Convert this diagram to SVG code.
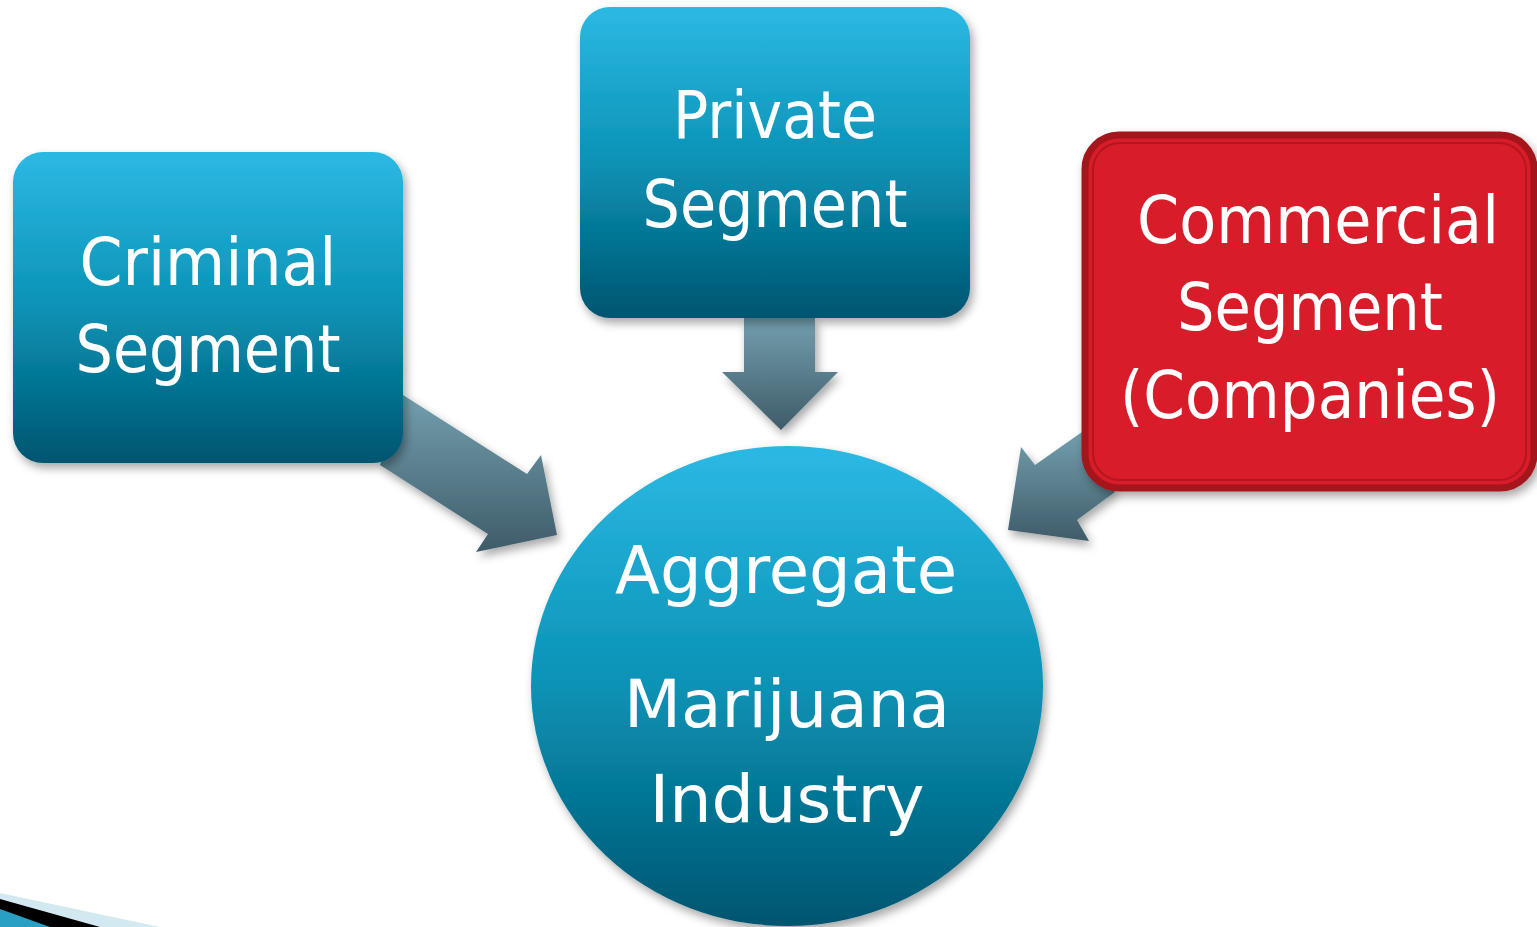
<svg xmlns="http://www.w3.org/2000/svg" width="1537" height="927" viewBox="0 0 1537 927">
<defs>
<linearGradient id="blue" x1="0" y1="0" x2="0" y2="1">
<stop offset="0" stop-color="#2cb9e4"/>
<stop offset="0.5" stop-color="#0a92b5"/>
<stop offset="1" stop-color="#005570"/>
</linearGradient>
<linearGradient id="arrowG" x1="0" y1="0" x2="0" y2="1">
<stop offset="0" stop-color="#739fae"/>
<stop offset="1" stop-color="#3f5b69"/>
</linearGradient>
<filter id="shadow" x="-20%" y="-20%" width="140%" height="140%">
<feDropShadow dx="3" dy="5" stdDeviation="5" flood-color="#000" flood-opacity="0.35"/>
</filter>
</defs>
<style>
.lbl{font-family:"DejaVu Sans","Liberation Sans",sans-serif;font-size:65px;fill:#ffffff;text-anchor:middle}
.arrow{fill:url(#arrowG);filter:url(#shadow)}
.box{fill:url(#blue);filter:url(#shadow)}
</style>
<rect width="1537" height="927" fill="#ffffff"/>
<g id="corner">
<polygon points="0,893 160,927 0,927" fill="#d3e9f1"/>
<polygon points="0,899 100,927 0,927" fill="#000000"/>
<polygon points="0,909 50,927 0,927" fill="#2a9fc4"/>
</g>
<g id="connectors">
<polygon class="arrow" points="744,318 815,318 815,372 838,372 781,430 722,372 744,372"/>
<polygon class="arrow" points="403,395 527,474 541,455 557,535 476,552 488,534 380,465"/>
<polygon class="arrow" points="1082,432 1035,465 1021,447 1008,530 1089,541 1077,520 1115,492"/>
</g>
<g id="criminal">
<rect class="box" x="13" y="152" width="390" height="311" rx="30"/>
<text class="lbl" x="208" y="285" textLength="257" lengthAdjust="spacingAndGlyphs">Criminal</text>
<text class="lbl" x="208" y="372" textLength="265" lengthAdjust="spacingAndGlyphs">Segment</text>
</g>
<g id="private">
<rect class="box" x="580" y="7" width="390" height="311" rx="30"/>
<text class="lbl" x="775" y="138" textLength="204" lengthAdjust="spacingAndGlyphs">Private</text>
<text class="lbl" x="775" y="227" textLength="265" lengthAdjust="spacingAndGlyphs">Segment</text>
</g>
<g id="commercial">
<rect x="1085" y="135" width="449" height="353" rx="34" fill="#d91f2a" stroke="#a5141c" stroke-width="7" filter="url(#shadow)"/>
<rect x="1093" y="143" width="433" height="337" rx="27" fill="none" stroke="#b3161f" stroke-width="2"/>
<text class="lbl" x="1318" y="243" textLength="362" lengthAdjust="spacingAndGlyphs">Commercial</text>
<text class="lbl" x="1310" y="330" textLength="266" lengthAdjust="spacingAndGlyphs">Segment</text>
<text class="lbl" x="1310" y="418" textLength="380" lengthAdjust="spacingAndGlyphs">(Companies)</text>
</g>
<g id="aggregate">
<ellipse cx="787" cy="686" rx="256" ry="240" fill="url(#blue)" filter="url(#shadow)"/>
<text class="lbl" x="786" y="593" textLength="342" lengthAdjust="spacingAndGlyphs">Aggregate</text>
<text class="lbl" x="787" y="727" textLength="326" lengthAdjust="spacingAndGlyphs">Marijuana</text>
<text class="lbl" x="787" y="822" textLength="275" lengthAdjust="spacingAndGlyphs">Industry</text>
</g>
</svg>
